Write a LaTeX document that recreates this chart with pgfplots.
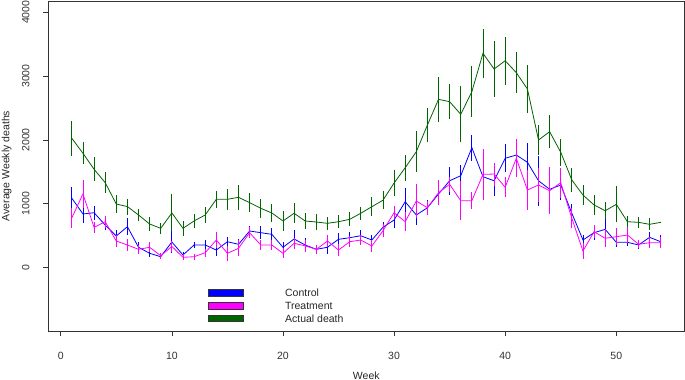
\documentclass[border=0pt]{standalone}
\usepackage{fontspec}
\setmainfont{Liberation Sans}
\usepackage{pgfplots}
\usepackage{pgfplotstable}
\pgfplotsset{compat=1.18}
\definecolor{ctrl}{RGB}{0,0,255}
\definecolor{trt}{RGB}{255,0,255}
\definecolor{act}{RGB}{0,100,0}

\pgfplotstableread{
x y e
1 1085 180
2 839 145
3 859 110
4 666 80
5 494 100
6 640 130
7 317 90
8 223 55
9 169 40
10 400 165
11 196 50
12 353 50
13 353 80
14 274 100
15 404 80
16 364 80
17 572 85
18 546 100
19 520 100
20 317 90
21 447 135
22 353 110
23 285 70
24 317 100
25 442 100
26 467 90
27 498 90
28 431 85
29 630 90
30 745 130
31 1031 210
32 823 160
33 937 115
34 1152 155
35 1360 220
36 1439 170
37 1878 205
38 1423 230
39 1360 235
40 1712 220
41 1763 250
42 1649 300
43 1360 390
44 1226 190
45 1293 230
46 850 150
47 431 80
48 546 120
49 598 180
50 395 80
51 395 65
52 353 60
53 473 90
54 404 100
}\control

\pgfplotstableread{
x y e
1 780 160
2 1152 220
3 630 90
4 718 95
5 415 95
6 353 90
7 285 70
8 317 80
9 185 45
10 330 90
11 160 45
12 169 50
13 232 65
14 431 130
15 223 115
16 301 125
17 546 90
18 353 80
19 353 80
20 223 80
21 379 90
22 340 90
23 285 70
24 415 95
25 274 90
26 404 85
27 431 85
28 337 90
29 575 100
30 859 100
31 718 145
32 1042 260
33 937 110
34 1172 195
35 1304 115
36 1047 305
37 1047 130
38 1460 405
39 1465 180
40 1257 155
41 1712 300
42 1215 315
43 1293 270
44 1204 365
45 1329 235
46 770 155
47 259 120
48 561 105
49 458 140
50 483 130
51 509 130
52 364 65
53 389 90
54 389 90
}\treatment

\pgfplotstableread{
x y e
1 2025 275
2 1790 175
3 1540 185
4 1330 170
5 995 145
6 955 125
7 823 100
8 682 105
9 614 90
10 855 290
11 614 120
12 730 105
13 823 130
14 1069 130
15 1069 160
16 1100 195
17 1016 145
18 928 145
19 855 145
20 729 155
21 850 155
22 729 125
23 713 120
24 693 105
25 718 105
26 755 112
27 850 105
28 953 145
29 1055 140
30 1324 210
31 1564 205
32 1815 325
33 2233 265
34 2636 355
35 2599 275
36 2401 440
37 2756 400
38 3357 380
39 3111 440
40 3241 375
41 3054 325
42 2798 380
43 1998 240
44 2129 260
45 1806 210
46 1371 185
47 1136 155
48 980 155
49 890 130
50 990 280
51 718 90
52 708 90
53 677 95
54 708 10
}\actual

\begin{document}
\begin{tikzpicture}
\begin{axis}[
  scale only axis,
  width=636bp, height=330bp,
  xmin=-1.12, xmax=56.12, ymin=-995, ymax=4177,
  xtick={0,10,20,30,40,50},
  ytick={0,1000,2000,3000,4000},
  xtick pos=bottom, ytick pos=left,
  tick align=outside,
  major tick length=5bp,
  tick style={black!80, line width=0.7bp},
  axis line style={black!80, line width=0.8bp},
  /pgf/number format/assume math mode=true,
  /pgf/number format/1000 sep={},
  scaled y ticks=false,
  tick label style={font=\fontsize{10.5bp}{12bp}\selectfont, text=black!80},
  yticklabel style={rotate=90, anchor=base, yshift=14bp},
  xticklabel style={anchor=base, yshift=-23bp},
  label style={font=\fontsize{10.5bp}{12bp}\selectfont, text=black!85},
  xlabel={Week},
  ylabel={Average Weekly deaths},
  xlabel style={at={(axis description cs:0.5,0)}, anchor=base, yshift=-48bp},
  ylabel style={at={(axis description cs:0,0.5)}, anchor=base, rotate=0, yshift=39bp},
  legend cell align=left,
  legend style={at={(rel axis cs:0.2516,0.1276)}, anchor=north west,
    inner sep=0pt, outer sep=0pt, draw=none, fill=none,
    /tikz/column sep=0pt, /tikz/row sep=5.2bp,
    font=\fontsize{10.5bp}{12bp}\selectfont,
    nodes={inner sep=0pt, text height=7.6bp, text depth=0bp, text=black!85}},
  legend image code/.code={
    \path (0bp,0bp) (76bp,0bp);
    \filldraw[#1, draw=black!80, line width=0.5bp] (0bp,-3.35bp) rectangle (35bp,3.35bp);
  },
  every axis plot/.append style={line width=0.8bp, no markers},
  error bars/error bar style={line width=0.8bp},
]
\addplot+[color=ctrl, error bars/.cd, y dir=both, y explicit, error mark=none]
  table[x=x, y=y, y error=e] {\control};
\addlegendentry{Control}
\addplot+[color=trt, error bars/.cd, y dir=both, y explicit, error mark=none]
  table[x=x, y=y, y error=e] {\treatment};
\addlegendentry{Treatment}
\addplot+[color=act, error bars/.cd, y dir=both, y explicit, error mark=none]
  table[x=x, y=y, y error=e] {\actual};
\addlegendentry{Actual death}
\end{axis}
\pgfresetboundingbox
\useasboundingbox (-48.3bp,-49bp) rectangle (636.7bp,331bp);
\end{tikzpicture}
\end{document}
